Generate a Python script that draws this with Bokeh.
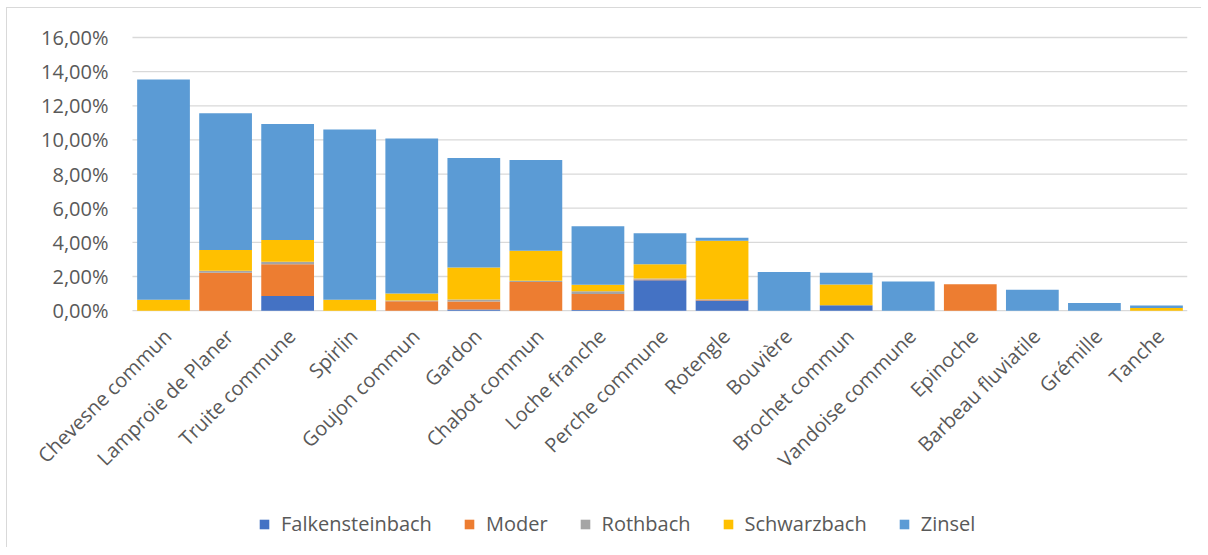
import math
from bokeh.plotting import figure
from bokeh.models import ColumnDataSource, Legend, LegendItem, Range1d
from bokeh.core.properties import value
from bokeh.embed import file_html
from bokeh.resources import INLINE

categories = ["Chevesne commun", "Lamproie de Planer", "Truite commune", "Spirlin",
              "Goujon commun", "Gardon", "Chabot commun", "Loche franche",
              "Perche commune", "Rotengle", "Bouvière", "Brochet commun",
              "Vandoise commune", "Epinoche", "Barbeau fluviatile", "Grémille", "Tanche"]

falkensteinbach = [0.00, 0.00, 0.86, 0.00, 0.00, 0.06, 0.00, 0.03, 1.78, 0.59, 0.00, 0.31, 0.00, 0.00, 0.00, 0.00, 0.00]
moder           = [0.00, 2.22, 1.85, 0.00, 0.55, 0.47, 1.67, 0.95, 0.05, 0.04, 0.00, 0.00, 0.00, 1.54, 0.00, 0.00, 0.00]
rothbach        = [0.00, 0.12, 0.16, 0.00, 0.04, 0.12, 0.08, 0.15, 0.05, 0.04, 0.00, 0.00, 0.00, 0.00, 0.00, 0.00, 0.00]
schwarzbach     = [0.64, 1.21, 1.27, 0.64, 0.41, 1.87, 1.76, 0.39, 0.84, 3.43, 0.00, 1.22, 0.00, 0.00, 0.00, 0.00, 0.16]
zinsel          = [12.90, 8.02, 6.79, 9.97, 9.08, 6.42, 5.31, 3.42, 1.81, 0.17, 2.27, 0.69, 1.70, 0.00, 1.22, 0.44, 0.14]

series_names = ["Falkensteinbach", "Moder", "Rothbach", "Schwarzbach", "Zinsel"]
series_values = [falkensteinbach, moder, rothbach, schwarzbach, zinsel]
colors = ["#4472C4", "#ED7D31", "#A5A5A5", "#FFC000", "#5B9BD5"]
y_ticks = [0, 2, 4, 6, 8, 10, 12, 14, 16]
y_tick_labels = ["0,00%", "2,00%", "4,00%", "6,00%", "8,00%", "10,00%", "12,00%", "14,00%", "16,00%"]

n = len(categories)
positions = list(range(n))  # slot index of each category on the x scale

data = {"x": positions, "cat": categories, "zero": [0] * n}
for name, vals in zip(series_names, series_values):
    data[name] = vals
source = ColumnDataSource(data)
tick_src = ColumnDataSource({"y": y_ticks, "label": y_tick_labels,
                             "x0": [-0.5] * len(y_ticks), "x1": [n - 0.5] * len(y_ticks)})

FONT = "Open Sans"
TXT = "#595959"

# the frame covers the whole chart area; the region left of the first slot holds
# the value labels and the region below 0 holds the category labels and legend
p = figure(x_range=Range1d(-2.514, n - 0.5), y_range=Range1d(-13.76, 17.70),
           frame_width=1180, frame_height=537,
           output_backend="svg", toolbar_location=None,
           min_border_left=0, min_border_right=14, min_border_top=0, min_border_bottom=2)
p.styles = {"border-left": "1px solid #D9D9D9", "border-top": "1px solid #D9D9D9",
            "margin-left": "6px", "margin-top": "7px"}

p.xaxis.visible = False
p.yaxis.visible = False
p.xgrid.visible = False
p.ygrid.visible = False
p.outline_line_color = None
p.background_fill_color = "white"
p.border_fill_color = "white"

# horizontal gridlines at the value ticks
p.segment(x0="x0", x1="x1", y0="y", y1="y", source=tick_src,
          line_color="#D9D9D9", line_width=1.3)

renderers = p.vbar_stack(series_names, x="x", width=0.85, color=colors, source=source,
                         line_color=None)

# value labels
p.text(x="x0", y="y", text="label", source=tick_src, x_offset=-24,
       text_align="right", text_baseline="middle",
       text_font=value(FONT), text_font_size="20px", text_color=TXT)

# category labels, rotated 45 degrees below the zero line
p.text(x="x", y="zero", text="cat", source=source, angle=math.pi / 4,
       text_align="right", text_baseline="middle", x_offset=4, y_offset=22,
       text_font=value(FONT), text_font_size="20px", text_color=TXT)

items = [LegendItem(label=s, renderers=[r]) for s, r in zip(series_names, renderers)]
legend = Legend(items=items, orientation="horizontal", location=(251, 8),
                glyph_width=12, glyph_height=12, label_standoff=11, spacing=31,
                padding=2, margin=0, border_line_color=None, background_fill_alpha=0,
                label_text_font=FONT, label_text_font_size="20px", label_text_color=TXT)
p.add_layout(legend, "center")

open("out.html", "w").write(file_html(p, INLINE))
